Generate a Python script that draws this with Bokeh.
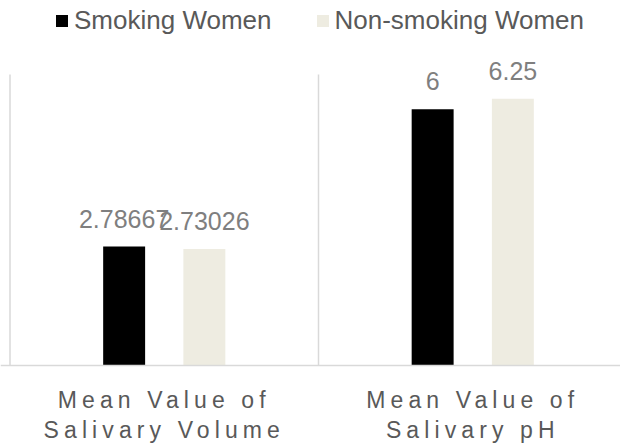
import numpy as np
from bokeh.plotting import figure
from bokeh.models import (ColumnDataSource, Range1d, Span, Legend, LegendItem)
from bokeh.core.properties import value
from bokeh.layouts import column
from bokeh.embed import file_html
from bokeh.resources import INLINE

# ---- data ----
categories = ["Mean Value of\nSalivary Volume", "Mean Value of\nSalivary pH"]
series_names = ["Smoking Women", "Non-smoking Women"]
smoking_values = [2.78667, 6.0]
nonsmoking_values = [2.73026, 6.25]
y_axis_max = 6.815   # top of the plot area (value units)

# ---- style ----
FONT = "Liberation Sans"
colors = ["#000000", "#EEECE1"]
offsets = [-0.13, 0.13]
bar_width = 0.136
CAT_PX = 308.5      # pixels per category
Y_PX = 42.7         # pixels per unit
LS = 5.1            # letter spacing of category labels
LINE_PX = 30.0      # line spacing of category labels

n = len(categories)
centers = np.arange(n) + 0.5
boundaries = np.arange(n + 1)

x_range = Range1d(-9.5 / CAT_PX, 610.5 / CAT_PX)
p = figure(width=620, height=367, x_range=x_range,
           y_range=Range1d(-2 / Y_PX, 365 / Y_PX),
           x_axis_type=None, y_axis_type=None, toolbar_location=None,
           output_backend="svg", min_border=0, outline_line_color=None,
           title=None)

# category separators and baseline
p.segment(x0=boundaries, y0=0, x1=boundaries, y1=y_axis_max,
          line_color="#D9D9D9", line_width=1.5)
p.add_layout(Span(location=0, dimension="width", line_color="#D9D9D9",
                  line_width=1.5))

renderers = []
for i, vals in enumerate([smoking_values, nonsmoking_values]):
    src = ColumnDataSource(dict(x=centers + offsets[i], top=vals,
                                label=[f"{v:g}" for v in vals]))
    r = p.vbar(x="x", top="top", bottom=0, width=bar_width, source=src,
               fill_color=colors[i], line_color=None)
    renderers.append(r)
    p.text(x="x", y="top", text="label", source=src, text_font=value(FONT),
           text_font_size="25px", text_color="#7F7F7F", text_align="center",
           text_baseline="alphabetic", y_offset=-28)

legend = Legend(items=[LegendItem(label=nm, renderers=[r])
                       for nm, r in zip(series_names, renderers)],
                location=(54, 331), orientation="horizontal", margin=0,
                padding=0, spacing=43, glyph_width=15, glyph_height=15,
                label_standoff=5, label_height=25, label_text_font=FONT,
                label_text_font_size="26px", label_text_color="#595959",
                border_line_color=None, background_fill_alpha=0)
p.add_layout(legend, "center")

# ---- category labels (letter-spaced) ----
q_height = 76
y_top = 32.2 / LINE_PX
q = figure(width=620, height=q_height, x_range=x_range,
           y_range=Range1d(y_top - q_height / LINE_PX, y_top),
           x_axis_type=None, y_axis_type=None,
           toolbar_location=None, output_backend="svg", min_border=0,
           outline_line_color=None, title=None,
           styles={"letter-spacing": f"{LS}px"})
lx, ly, lt, lo = [], [], [], []
for i, cat in enumerate(categories):
    for k, line in enumerate(cat.split("\n")):
        lx.append(float(centers[i]))
        ly.append(-k)
        lt.append(line)
        lo.append(-len(line) * LS / 2)
q.text(x="x", y="y", text="text", x_offset="xo",
       source=ColumnDataSource(dict(x=lx, y=ly, text=lt, xo=lo)),
       text_font=value(FONT), text_font_size="23px", text_color="#595959",
       text_align="center", text_baseline="alphabetic")

layout = column(p, q)
open("out.html", "w").write(file_html(layout, INLINE))
